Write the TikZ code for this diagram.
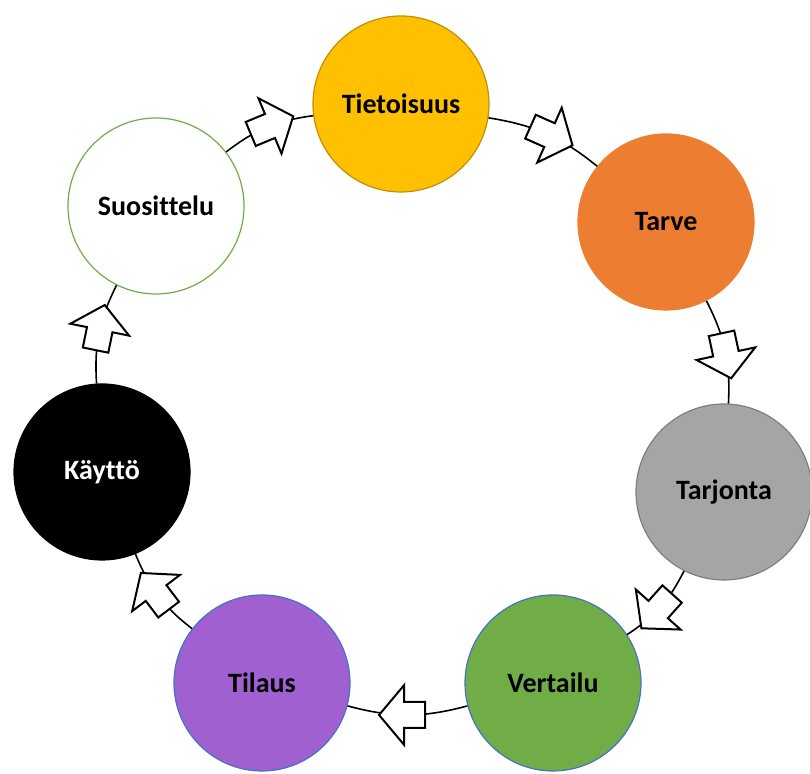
\documentclass[tikz,border=0pt]{standalone}
\usepackage{fontspec}
\setmainfont{Carlito}[Ligatures=NoCommon]
\usepackage{tikz}
\usetikzlibrary{shapes.arrows}
\definecolor{Gold}{RGB}{255,192,0}
\definecolor{GoldLine}{RGB}{191,144,0}
\definecolor{Orange}{RGB}{237,125,49}
\definecolor{Grey}{RGB}{165,165,165}
\definecolor{GreyLine}{RGB}{127,127,127}
\definecolor{Green}{RGB}{112,173,71}
\definecolor{Purple}{RGB}{160,96,208}
\definecolor{BlueLine}{RGB}{68,114,196}

\begin{document}
\begin{tikzpicture}[x=0.5pt, y=0.5pt,
		stage/.style={circle, minimum size=88pt, inner sep=0pt, line width=0.6pt,
			font=\fontsize{14}{16}\selectfont\bfseries},
		link/.style={line width=0.8pt, bend left=15},
		blockarrow/.style={single arrow, draw=black, fill=white, line width=1pt,
			single arrow head extend=8.5pt, single arrow tip angle=100,
			minimum height=23pt, inner xsep=0pt, inner ysep=6pt,
			sloped, allow upside down}]
		\useasboundingbox (0,0) rectangle (810,774);
		
		% 阶段
		\node[stage, fill=Gold, draw=GoldLine] (tie) at (401,670) {Tietoisuus};
		\node[stage, fill=Orange, draw=Orange] (tar) at (666,552) {Tarve};
		\node[stage, fill=Grey, draw=GreyLine] (tarj) at (724,282) {Tarjonta};
		\node[stage, fill=Green, draw=BlueLine] (ver) at (553,91) {Vertailu};
		\node[stage, fill=Purple, draw=BlueLine] (til) at (262,91) {Tilaus};
		\node[stage, fill=black, draw=black, text=white] (kay) at (102,302) {Käyttö};
		\node[stage, fill=white, draw=Green] (suo) at (156,568) {Suosittelu};
		
		% 连线
		\draw[link] (tie) to node[blockarrow] (a1) {} (tar);
		\draw[link] (tar) to node[blockarrow] (a2) {} (tarj);
		\draw[link] (tarj) to node[blockarrow] (a3) {} (ver);
		\draw[link] (ver) to node[blockarrow] (a4) {} (til);
		\draw[link] (til) to node[blockarrow] (a5) {} (kay);
		\draw[link] (kay) to node[blockarrow] (a6) {} (suo);
		\draw[link] (suo) to node[blockarrow] (a7) {} (tie);
	\end{tikzpicture}
\end{document}
